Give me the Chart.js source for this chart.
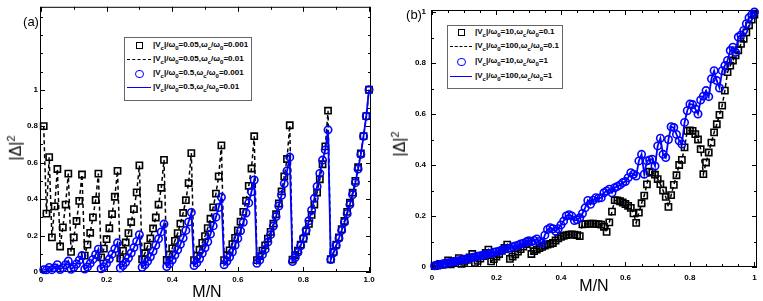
<!DOCTYPE html>
<html>
<head>
<meta charset="utf-8">
<script src="https://cdn.jsdelivr.net/npm/chart.js@4.4.0/dist/chart.umd.min.js"></script>
<style>
  html, body { margin: 0; padding: 0; background: #fff; }
  #wrap { position: relative; width: 763px; height: 301px; overflow: hidden; font-family: "Liberation Sans", Arial, sans-serif; color: #000; }
  canvas { position: absolute; top: 0; }
  .txt { position: absolute; white-space: nowrap; line-height: 1; }
  .ttl { font-size: 16px; transform: translate(-50%, -50%); }
  .ytl { font-size: 16px; transform: translate(-50%, -50%) rotate(-90deg); }
  .ytl sup { font-size: 11px; }
  .tag { font-size: 13px; transform: translate(-50%, -50%); }
  .legend { position: absolute; border: 1px solid #666; background: #fff; }
  .row { position: absolute; left: 0; height: 12px; width: 100%; }
  .row .lbl { position: absolute; top: 0; font-size: 8px; font-weight: bold; line-height: 10px; white-space: nowrap; }
  .row sub { font-size: 6px; }
  .sym { position: absolute; box-sizing: border-box; }
</style>
</head>
<body>
<div id="wrap">
  <canvas id="chartA" width="380" height="301" style="left:0"></canvas>
  <canvas id="chartB" width="383" height="301" style="left:380px"></canvas>

  <div class="txt tag" style="left:31px; top:21px">(a)</div>
  <div class="txt tag" style="left:414px; top:14px">(b)</div>
  <div class="txt ttl" style="left:207px; top:292px">M/N</div>
  <div class="txt ttl" style="left:594px; top:286px">M/N</div>
  <div class="txt ytl" style="left:15px; top:148px">|&Delta;|<sup>2</sup></div>
  <div class="txt ytl" style="left:399px; top:144px">|&Delta;|<sup>2</sup></div>

  <div id="legendA" class="legend" style="left:124px; top:37px; width:126px; height:62px"></div>
  <div id="legendB" class="legend" style="left:447px; top:25px; width:114px; height:62px"></div>
</div>

<script>
// x categories: M/N with N = 120
const N = 120;
const mOverN = Array.from({ length: N }, (_, i) => (i + 1) / N);

// panel (a), |Vc|/w0 = 0.05 (black squares / dashed), one row per shell
const aBlack = [
  0.80,
  0.32, 0.63,
  0.19, 0.36, 0.565,
  0.14, 0.245, 0.37, 0.54,
  0.11, 0.19, 0.28, 0.39, 0.535,
  0.09, 0.15, 0.215, 0.30, 0.395, 0.54,
  0.08, 0.128, 0.18, 0.24, 0.318, 0.413, 0.555,
  0.075, 0.116, 0.162, 0.213, 0.274, 0.345, 0.437, 0.585,
  0.07, 0.103, 0.141, 0.184, 0.239, 0.299, 0.37, 0.462, 0.615,
  0.066, 0.095, 0.13, 0.171, 0.213, 0.265, 0.324, 0.394, 0.488, 0.652,
  0.065, 0.09, 0.122, 0.16, 0.197, 0.241, 0.292, 0.355, 0.43, 0.525, 0.695,
  0.065, 0.092, 0.119, 0.153, 0.187, 0.228, 0.276, 0.33, 0.391, 0.473, 0.568, 0.745,
  0.065, 0.087, 0.117, 0.146, 0.183, 0.22, 0.265, 0.317, 0.376, 0.442, 0.524, 0.62, 0.805,
  0.068, 0.093, 0.117, 0.15, 0.182, 0.223, 0.264, 0.313, 0.37, 0.436, 0.509, 0.591, 0.689, 0.885,
  0.07, 0.11, 0.15, 0.19, 0.235, 0.28, 0.33, 0.38, 0.435, 0.50, 0.575, 0.65, 0.745, 0.855, 1.0
];

// panel (a), |Vc|/w0 = 0.5 (blue circles / solid)
const aBlue = [
  0.013,
  0.012, 0.025,
  0.013, 0.023, 0.04,
  0.014, 0.024, 0.04, 0.06,
  0.015, 0.026, 0.044, 0.065, 0.09,
  0.016, 0.028, 0.047, 0.069, 0.096, 0.125,
  0.018, 0.029, 0.048, 0.071, 0.098, 0.127, 0.16,
  0.022, 0.035, 0.053, 0.077, 0.104, 0.134, 0.168, 0.205,
  0.026, 0.04, 0.059, 0.083, 0.114, 0.147, 0.182, 0.22, 0.263,
  0.03, 0.045, 0.066, 0.093, 0.122, 0.152, 0.186, 0.228, 0.275, 0.327,
  0.035, 0.05, 0.073, 0.103, 0.133, 0.166, 0.208, 0.253, 0.301, 0.354, 0.41,
  0.04, 0.059, 0.082, 0.11, 0.147, 0.184, 0.226, 0.273, 0.324, 0.379, 0.44, 0.505,
  0.048, 0.065, 0.095, 0.124, 0.164, 0.205, 0.252, 0.304, 0.362, 0.421, 0.485, 0.554, 0.63,
  0.057, 0.079, 0.108, 0.144, 0.187, 0.23, 0.281, 0.339, 0.404, 0.469, 0.541, 0.614, 0.67, 0.78,
  0.068, 0.105, 0.145, 0.185, 0.228, 0.272, 0.32, 0.37, 0.425, 0.49, 0.565, 0.645, 0.745, 0.855, 1.0
];

// panel (b), wc/w0 = 0.1 (black squares / dashed)
const bBlack = [
  0.004, 0.006, 0.012, 0.008, 0.014, 0.026, 0.01, 0.016, 0.024, 0.035,
  0.012, 0.02, 0.028, 0.038, 0.051, 0.016, 0.024, 0.033, 0.043, 0.055,
  0.068, 0.022, 0.031, 0.041, 0.051, 0.063, 0.075, 0.088, 0.032, 0.041,
  0.05, 0.06, 0.07, 0.08, 0.09, 0.101, 0.051, 0.062, 0.068, 0.074,
  0.079, 0.084, 0.088, 0.091, 0.094, 0.104, 0.112, 0.118, 0.122, 0.125,
  0.127, 0.128, 0.127, 0.125, 0.121, 0.167, 0.168, 0.169, 0.17, 0.17,
  0.169, 0.168, 0.166, 0.158, 0.138, 0.175, 0.217, 0.262, 0.261, 0.258,
  0.253, 0.247, 0.24, 0.232, 0.21, 0.173, 0.213, 0.25, 0.28, 0.324,
  0.374, 0.37, 0.362, 0.345, 0.325, 0.3, 0.275, 0.236, 0.282, 0.322,
  0.36, 0.4, 0.42, 0.469, 0.534, 0.536, 0.534, 0.521, 0.5, 0.462,
  0.364, 0.41, 0.449, 0.488, 0.528, 0.56, 0.597, 0.633, 0.692, 0.764,
  0.79, 0.81, 0.83, 0.85, 0.875, 0.895, 0.92, 0.948, 0.97, 0.99
];

// panel (b), wc/w0 = 1 (blue circles / solid)
const bBlue = [
  0.005, 0.008, 0.01, 0.012, 0.014, 0.017, 0.018, 0.021, 0.023, 0.025,
  0.028, 0.03, 0.031, 0.034, 0.037, 0.039, 0.042, 0.044, 0.046, 0.05,
  0.052, 0.054, 0.058, 0.06, 0.062, 0.067, 0.07, 0.072, 0.074, 0.079,
  0.082, 0.085, 0.09, 0.093, 0.097, 0.103, 0.099, 0.104, 0.11, 0.1,
  0.094, 0.125, 0.147, 0.154, 0.15, 0.14, 0.15, 0.165, 0.18, 0.2,
  0.205, 0.2, 0.182, 0.185, 0.193, 0.21, 0.232, 0.261, 0.246, 0.262,
  0.272, 0.27, 0.272, 0.291, 0.298, 0.305, 0.291, 0.311, 0.316, 0.322,
  0.331, 0.335, 0.35, 0.37, 0.364, 0.357, 0.416, 0.442, 0.364, 0.416,
  0.42, 0.423, 0.396, 0.475, 0.505, 0.442, 0.429, 0.5, 0.55, 0.547,
  0.52, 0.495, 0.482, 0.567, 0.613, 0.639, 0.637, 0.62, 0.6, 0.655,
  0.67, 0.692, 0.668, 0.738, 0.77, 0.731, 0.702, 0.77, 0.79, 0.81,
  0.849, 0.862, 0.842, 0.902, 0.91, 0.928, 0.954, 0.978, 0.99, 1.0
];

// tick values and labels
const aXTicks = [0, 0.2, 0.4, 0.6, 0.8, 1.0];
const aXLabels = ["0", "0.2", "0.4", "0.6", "0.8", "1.0"];
const aYTicks = [0, 0.2, 0.4, 0.6, 0.8, 1];
const aYLabels = ["0", "0.2", "0.4", "0.6", "0.8", "1"];
const aXMinor = [0.1, 0.3, 0.5, 0.7, 0.9];
const aYMinor = [0.1, 0.3, 0.5, 0.7, 0.9, 1.1, 1.2, 1.3, 1.4];

const bXTicks = [0, 0.2, 0.4, 0.6, 0.8, 1];
const bXLabels = ["0", "0.2", "0.4", "0.6", "0.8", "1"];
const bYTicks = [0, 0.2, 0.4, 0.6, 0.8, 1];
const bYLabels = ["0", "0.2", "0.4", "0.6", "0.8", "1"];
const bXMinor = [0.05, 0.1, 0.15, 0.25, 0.3, 0.35, 0.45, 0.5, 0.55, 0.65, 0.7, 0.75, 0.85, 0.9, 0.95];
const bYMinor = [0.1, 0.3, 0.5, 0.7, 0.9];

// legend texts
const aLegend = [
  "|V<sub>c</sub>|/&omega;<sub>0</sub>=0.05,&omega;<sub>c</sub>/&omega;<sub>0</sub>=0.001",
  "|V<sub>c</sub>|/&omega;<sub>0</sub>=0.05,&omega;<sub>c</sub>/&omega;<sub>0</sub>=0.01",
  "|V<sub>c</sub>|/&omega;<sub>0</sub>=0.5,&omega;<sub>c</sub>/&omega;<sub>0</sub>=0.001",
  "|V<sub>c</sub>|/&omega;<sub>0</sub>=0.5,&omega;<sub>c</sub>/&omega;<sub>0</sub>=0.01"
];
const bLegend = [
  "|V<sub>c</sub>|/&omega;<sub>0</sub>=10,&omega;<sub>c</sub>/&omega;<sub>0</sub>=0.1",
  "|V<sub>c</sub>|/&omega;<sub>0</sub>=100,&omega;<sub>c</sub>/&omega;<sub>0</sub>=0.1",
  "|V<sub>c</sub>|/&omega;<sub>0</sub>=10,&omega;<sub>c</sub>/&omega;<sub>0</sub>=1",
  "|V<sub>c</sub>|/&omega;<sub>0</sub>=100,&omega;<sub>c</sub>/&omega;<sub>0</sub>=1"
];

const BLUE = "#0000ff";
const tickFont = { family: "Liberation Sans", size: 8, weight: "bold" };

// box around the plot with inward major/minor ticks
const framePlugin = {
  id: "frame",
  beforeDatasetsDraw(chart, args, opts) {
    const { ctx, chartArea: a, scales } = chart;
    ctx.save();
    ctx.strokeStyle = "#000";
    ctx.lineWidth = 1;
    ctx.strokeRect(a.left + 0.5, a.top + 0.5, a.right - a.left - 1, a.bottom - a.top - 1);
    ctx.beginPath();
    const xt = (vals, len) => vals.forEach((v) => {
      const px = Math.round(scales.x.getPixelForValue(v)) + 0.5;
      ctx.moveTo(px, a.bottom); ctx.lineTo(px, a.bottom - len);
      ctx.moveTo(px, a.top); ctx.lineTo(px, a.top + len);
    });
    const yt = (vals, len) => vals.forEach((v) => {
      const py = Math.round(scales.y.getPixelForValue(v)) + 0.5;
      ctx.moveTo(a.left, py); ctx.lineTo(a.left + len, py);
      ctx.moveTo(a.right, py); ctx.lineTo(a.right - len, py);
    });
    xt(opts.xMajor, 5); xt(opts.xMinor, 3);
    yt(opts.yMajor, 5); yt(opts.yMinor, 3);
    ctx.stroke();
    ctx.restore();
  }
};

function points(vals) {
  return vals.map((v, i) => ({ x: mOverN[i], y: v }));
}

function makePanel(id, cfg) {
  new Chart(document.getElementById(id), {
    type: "line",
    data: {
      datasets: [
        { data: points(cfg.black), showLine: false, pointStyle: "rect", pointRadius: 4.4,
          pointBorderWidth: 1.6, borderColor: "#000", backgroundColor: "rgba(0,0,0,0)", order: 3, clip: 8 },
        { data: points(cfg.black), pointRadius: 0, borderColor: "#000", borderWidth: 1.5,
          borderDash: [4, 3], tension: 0, order: 2, clip: 8 },
        { data: points(cfg.blue), showLine: false, pointStyle: "circle", pointRadius: 3.7,
          pointBorderWidth: 1.6, borderColor: BLUE, backgroundColor: "rgba(0,0,0,0)", order: 1, clip: 8 },
        { data: points(cfg.blue), pointRadius: 0, borderColor: BLUE, borderWidth: 1.8,
          tension: 0, order: 0, clip: 8 }
      ]
    },
    options: {
      responsive: false,
      animation: false,
      events: [],
      layout: { padding: cfg.padding },
      plugins: {
        legend: { display: false },
        tooltip: { enabled: false },
        frame: { xMajor: cfg.xTicks, xMinor: cfg.xMinor, yMajor: cfg.yTicks, yMinor: cfg.yMinor }
      },
      scales: {
        x: {
          type: "linear",
          min: cfg.xMin, max: cfg.xMax,
          grid: { display: false, drawTicks: false },
          border: { display: false },
          ticks: { color: "#000", font: tickFont, padding: cfg.xPad, autoSkip: false, maxRotation: 0,
            callback: (v, i) => cfg.xLabels[i] },
          afterBuildTicks: (s) => { s.ticks = cfg.xTicks.map((v) => ({ value: v })); },
          afterFit: (s) => { s.height = cfg.xHeight; }
        },
        y: {
          type: "linear",
          min: cfg.yMin, max: cfg.yMax,
          grid: { display: false, drawTicks: false },
          border: { display: false },
          ticks: { color: "#000", font: tickFont, padding: cfg.yPad, autoSkip: false,
            callback: (v, i) => cfg.yLabels[i] },
          afterBuildTicks: (s) => { s.ticks = cfg.yTicks.map((v) => ({ value: v })); },
          afterFit: (s) => { s.width = cfg.yWidth; }
        }
      }
    },
    plugins: [framePlugin]
  });
}

makePanel("chartA", {
  black: aBlack, blue: aBlue,
  xTicks: aXTicks, xLabels: aXLabels, xMinor: aXMinor,
  yTicks: aYTicks, yLabels: aYLabels, yMinor: aYMinor,
  xMin: -0.003, xMax: 1.006, yMin: 0, yMax: 1.455,
  padding: { left: 0, right: 9, top: 0, bottom: 0 },
  xHeight: 29, yWidth: 40, xPad: 3, yPad: 2
});

makePanel("chartB", {
  black: bBlack, blue: bBlue,
  xTicks: bXTicks, xLabels: bXLabels, xMinor: bXMinor,
  yTicks: bYTicks, yLabels: bYLabels, yMinor: bYMinor,
  xMin: -0.003, xMax: 1.008, yMin: 0, yMax: 1.008,
  padding: { left: 0, right: 6, top: 10, bottom: 0 },
  xHeight: 34, yWidth: 51, xPad: 6, yPad: 5
});

// legends drawn as html so the subscripts stay real text
function buildLegend(id, labels, rowTops, symX, symW, textX) {
  const box = document.getElementById(id);
  const syms = [
    `<span class="sym" style="left:${symX - 3}px; top:2px; width:7px; height:7px; border:1.6px solid #000"></span>`,
    `<span class="sym" style="left:${symX - symW / 2}px; top:5px; width:${symW}px; height:0; border-top:1.6px dashed #000"></span>`,
    `<span class="sym" style="left:${symX - 4}px; top:1.5px; width:8.5px; height:8.5px; border:1.7px solid ${BLUE}; border-radius:50%"></span>`,
    `<span class="sym" style="left:${symX - symW / 2}px; top:5px; width:${symW}px; height:0; border-top:1.8px solid ${BLUE}"></span>`
  ];
  labels.forEach((txt, i) => {
    const row = document.createElement("div");
    row.className = "row";
    row.style.top = rowTops[i] + "px";
    row.innerHTML = syms[i] + `<span class="lbl" style="left:${textX}px">${txt}</span>`;
    box.appendChild(row);
  });
}

buildLegend("legendA", aLegend, [2, 16, 30, 44], 14, 24, 28);
buildLegend("legendB", bLegend, [1, 15, 30, 45], 13, 22, 27);
</script>
</body>
</html>
